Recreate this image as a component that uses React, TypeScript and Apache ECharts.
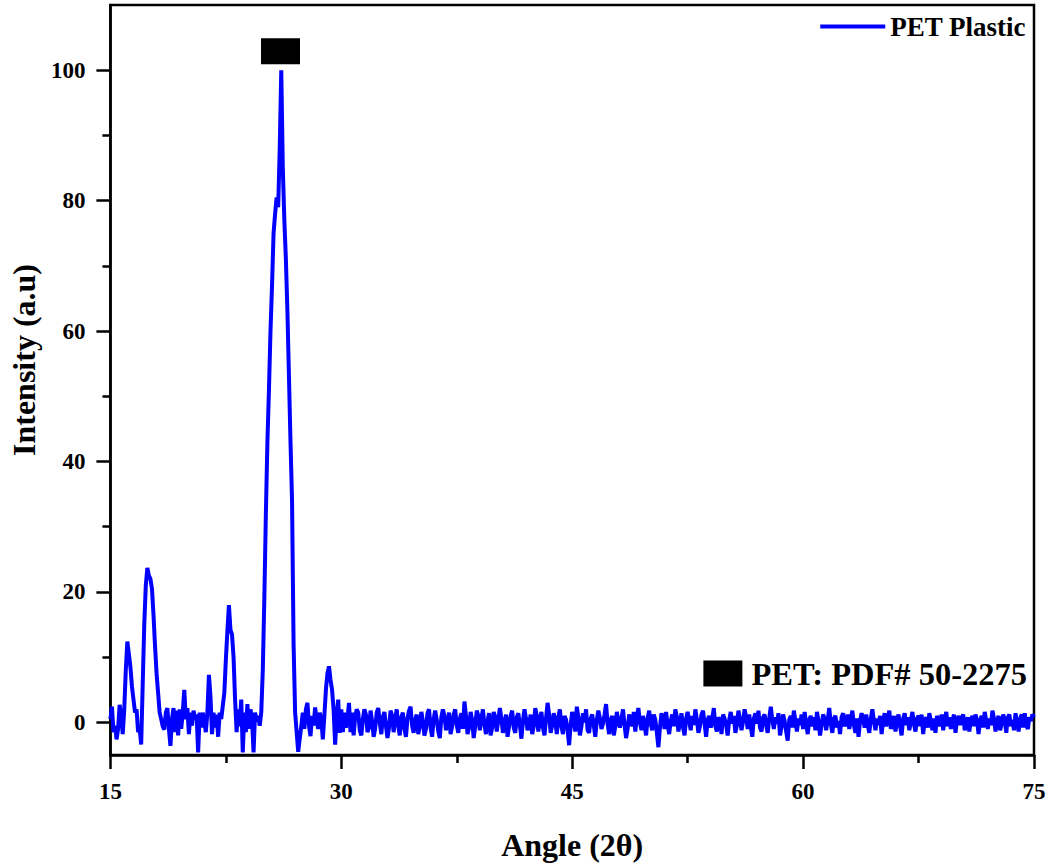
import React, { useEffect, useRef } from "react";
import * as echarts from "echarts";

// 2θ sampling: segment A 15.0–31.0, segment B 31.1–75.0, both step 0.1
const segAStart = 15.0;
const segBStart = 31.1;
const angleStep = 0.1;
const segA = [
  0.5, 2.4, -1.5, -0.5, -2.6, -1.0, 2.7, 1.0, -1.8, 2.0,
  8.0, 12.4, 10.5, 8.5, 5.5, 3.5, 1.5, 2.0, -1.5, -1.0,
  -3.4, 6.0, 15.0, 21.0, 23.7, 22.5, 22.0, 20.5, 16.5, 11.7,
  7.5, 4.5, 1.5, 0.5, -0.6, -1.1, 1.5, 2.2, -1.0, -3.6,
  0.5, 2.2, -1.5, 1.8, -2.0, 2.0, -1.0, 1.5, 5.0, 0.5,
  2.2, -1.8, 1.5, -0.5, 1.8, 0.5, 1.2, -4.6, 1.5, -0.8,
  1.5, 0.2, -1.5, 1.5, 7.3, 4.0, -1.8, 1.5, -0.8, 1.2,
  -2.2, 1.5, 0.5, 2.5, 4.5, 9.6, 14.0, 18.0, 14.2, 13.5,
  10.0, 3.5, -1.5, 2.0, -0.6, 3.5, -4.6, 1.5, -1.5, 2.8,
  -1.0, 2.0, 0.5, -4.6, 1.5, 0.2, 1.0, -0.5, 1.5, 8.0,
  19.0, 32.0, 43.0, 51.0, 60.0, 67.0, 75.0, 78.0, 80.5, 79.0,
  88.0, 100.0, 85.0, 77.0, 71.0, 63.0, 53.0, 43.0, 34.0, 12.0,
  1.5, -1.5, -4.5, -2.5, -0.6, 1.5, -1.0, 2.0, 3.0, -0.5,
  -2.1, 1.0, -0.5, 2.3, 0.5, -1.0, 1.5, 0.5, -2.6, 1.0,
  5.0, 7.5, 8.6, 6.5, 5.0, 2.0, -3.4, 1.0, 3.5, -1.6,
  2.0, -1.5, 1.5, -0.8, 0.5, 3.0, -1.5, 1.5, -2.0, 0.8,
  2.0,
];
const segB = [
  1.5, -1.2, -2.0, 0.5, 2.0, 1.2, -1.5, -0.8, 1.8, 0.2,
  -2.2, -1.0, 1.5, 2.2, 0.0, -1.8, 0.8, 1.6, -0.5, -2.4,
  -0.8, 1.8, 1.0, -1.5, 0.5, 2.0, -0.5, -2.0, 0.8, 1.5,
  -1.0, -2.2, 0.6, 1.8, 2.4, -0.5, -1.6, 0.4, 1.2, -1.8,
  -0.6, 1.6, 0.2, -2.0, -1.0, 1.4, 2.0, -0.8, -2.2, 0.5,
  1.8, 0.4, -1.4, -2.4, 0.8, 2.0, 1.0, -1.2, 0.0, 1.5,
  -1.8, -0.6, 1.2, 2.0, -0.4, -1.6, 0.6, 1.4, -1.0, 3.2,
  1.0, -1.8, -0.8, 1.6, 0.4, -2.4, -0.6, 1.8, 1.0, -1.2,
  0.6, 2.0, -0.4, -1.8, 0.2, 1.4, -2.0, -0.8, 1.6, 0.8,
  -1.4, 0.4, 2.2, 0.6, -1.6, -0.2, 1.2, -2.2, -0.6, 1.0,
  1.8, -0.8, -1.6, 0.8, 1.4, -0.4, -2.5, 0.2, 2.0, 0.6,
  -1.2, -0.2, 1.2, -1.8, -0.6, 2.2, 1.0, -1.4, 0.4, 1.6,
  -0.8, -2.0, 0.6, 3.0, 1.2, -1.6, -0.4, 1.4, 0.2, -1.8,
  0.8, 2.0, -0.6, -1.8, 1.0, 0.4, -1.2, -3.5, -0.4, 1.6,
  0.2, -1.4, 2.4, 0.8, -2.0, -0.6, 1.4, 0.0, 2.0, -1.2,
  -1.6, 0.6, 1.2, -0.4, -2.2, 0.4, 1.8, 0.6, -1.0, -0.2,
  1.2, 2.8, -0.2, -1.8, 0.4, 1.0, -2.0, -0.6, 1.6, 0.2,
  -0.8, 0.6, 2.0, -0.4, -2.4, -1.0, 1.2, 0.4, -0.6, 1.6,
  -1.4, 0.8, 2.2, 0.0, -1.2, 1.0, -0.4, -2.0, 0.6, 1.8,
  -0.2, -1.2, 1.2, 0.4, -1.6, -3.8, -0.8, 1.4, 0.6, -1.0,
  1.6, -0.4, -1.8, 0.2, 1.2, -0.6, 2.0, 0.8, -1.4, 0.0,
  1.4, -0.8, -2.0, 0.6, 1.6, 0.2, -1.2, 1.0, -0.4, 2.0,
  0.4, -1.6, -0.6, 1.2, 1.8, -0.2, -2.2, 0.4, 1.0, -0.8,
  0.6, 2.2, -0.6, -1.4, 0.8, 0.2, -1.8, 1.2, 0.6, -0.4,
  -2.0, 0.4, 1.6, -0.2, 1.0, -1.6, -0.4, 1.8, 0.4, -1.2,
  0.2, 2.0, 0.8, -1.0, 1.2, -0.6, -2.2, 0.6, 1.4, -0.2,
  1.8, -0.8, -1.4, 0.8, 1.2, -0.4, -1.6, 0.6, 2.4, 0.4,
  -1.0, 0.8, -0.2, 1.4, -2.0, -0.6, 1.2, 0.2, -1.4, -2.8,
  0.4, 1.0, -0.8, 1.8, 0.2, -1.4, 0.6, -0.4, 1.2, -1.0,
  1.6, -0.2, -1.8, 0.4, 1.0, -0.6, 0.8, -1.2, 1.6, 0.2,
  -2.0, -0.4, 1.2, 0.6, -1.2, 0.4, 2.2, -0.2, -1.6, 0.6,
  1.0, -0.8, 0.2, -1.8, 0.8, 1.4, -0.6, 0.0, 1.2, -1.0,
  0.4, 1.8, -0.4, -1.6, 0.6, -2.2, 0.2, 1.4, 0.4, -0.8,
  1.2, -0.4, -1.6, 0.6, 2.0, 0.2, -1.2, 0.6, -0.4, 1.0,
  -1.8, 0.2, 1.4, -0.6, 0.4, 1.8, -1.0, -0.2, 1.0, -1.4,
  0.4, 1.2, -0.6, -2.0, 0.6, 1.4, -0.4, 0.8, -1.2, 0.2,
  1.6, -0.2, -1.4, 0.6, 1.0, -0.6, 1.2, -1.8, 0.2, 0.8,
  -0.8, 1.4, 0.2, -1.2, 0.6, -1.6, 1.0, 0.2, -0.6, 1.2,
  -1.2, 0.4, 1.6, -0.6, 0.8, -1.0, 0.2, 1.2, -1.6, 0.4,
  1.0, -0.4, 0.6, 1.2, -1.2, -0.2, 0.8, -1.4, 0.4, 1.0,
  -0.6, 1.2, 0.2, -1.8, 0.4, 1.0, -0.8, 1.6, 0.2, -1.0,
  0.6, -0.4, 1.8, 0.6, -1.4, 0.2, 1.0, -1.2, -0.2, 1.2,
  0.4, -1.6, 0.8, 1.2, -0.6, 0.4, -1.2, 1.4, 0.0, -1.4,
  0.6, 1.2, -0.8, 1.4, -0.4, -1.0, 0.8, 0.2, 1.2, 0.8,
];

// reference phase marker (PET: PDF# 50-2275)
const refPeaks = [[26.05, 102.9]];

const xTicks = [15, 30, 45, 60, 75];
const yLabels = [0, 20, 40, 60, 80, 100];
const yMinor = [10, 30, 50, 70, 90];

const seriesName = "PET Plastic";
const refName = "PET: PDF# 50-2275";

function buildData(): number[][] {
  const out: number[][] = [];
  segA.forEach((v, i) => out.push([+(segAStart + i * angleStep).toFixed(2), v]));
  segB.forEach((v, i) => out.push([+(segBStart + i * angleStep).toFixed(2), v]));
  return out;
}

const FONT = "'Liberation Serif', 'Times New Roman', serif";

export default function App() {
  const ref = useRef<HTMLDivElement>(null);
  useEffect(() => {
    if (!ref.current) return;
    const chart = echarts.init(ref.current, undefined, { renderer: "svg" });
    const axisLineStyle = { color: "#000", width: 2.5 };
    chart.setOption({
      animation: false,
      backgroundColor: "#fff",
      grid: {
        left: 108,
        right: 20,
        top: 5,
        bottom: 112,
        show: true,
        borderColor: "#000",
        borderWidth: 2.5,
        backgroundColor: "transparent",
      },
      legend: [
        {
          data: [{ name: seriesName, icon: "rect" }],
          right: 28,
          top: 13,
          padding: 0,
          itemWidth: 65,
          itemHeight: 4,
          textStyle: { fontFamily: FONT, fontWeight: "bold", fontSize: 27, color: "#000" },
        },
        {
          data: [{ name: refName, icon: "rect" }],
          right: 27,
          top: 657,
          padding: 0,
          itemWidth: 39,
          itemHeight: 26,
          textStyle: { fontFamily: FONT, fontWeight: "bold", fontSize: 32.5, color: "#000", padding: [0, 0, 0, 4] },
        },
      ],
      xAxis: {
        type: "value",
        min: 15,
        max: 75,
        interval: 15,
        name: "Angle (2θ)",
        nameLocation: "middle",
        nameGap: 74,
        nameTextStyle: { fontFamily: FONT, fontWeight: "bold", fontSize: 32, color: "#000" },
        axisLine: { show: true, onZero: false, lineStyle: axisLineStyle },
        axisTick: { show: true, length: 14, inside: false, lineStyle: axisLineStyle },
        minorTick: { show: true, splitNumber: 2, length: 8, lineStyle: axisLineStyle },
        splitLine: { show: false },
        axisLabel: {
          margin: 25,
          fontFamily: FONT,
          fontWeight: "bold",
          fontSize: 23,
          color: "#000",
          customValues: xTicks,
        },
      },
      yAxis: [
        {
          type: "value",
          min: -5,
          max: 110,
          name: "Intensity (a.u)",
          nameLocation: "middle",
          nameGap: 64,
          nameTextStyle: {
            fontFamily: FONT,
            fontWeight: "bold",
            fontSize: 32,
            color: "#000",
            padding: [0, 0, 0, 40],
          },
          axisLine: { show: true, onZero: false, lineStyle: axisLineStyle },
          axisTick: { show: true, length: 14, inside: false, lineStyle: axisLineStyle, customValues: yLabels },
          splitLine: { show: false },
          axisLabel: {
            margin: 25,
            fontFamily: FONT,
            fontWeight: "bold",
            fontSize: 23,
            color: "#000",
            customValues: yLabels,
          },
        },
        {
          type: "value",
          min: -5,
          max: 110,
          position: "left",
          axisLine: { show: false, onZero: false },
          axisTick: { show: true, length: 8, inside: false, lineStyle: axisLineStyle, customValues: yMinor },
          splitLine: { show: false },
          axisLabel: { show: false, customValues: yMinor },
        },
      ],
      series: [
        {
          name: seriesName,
          type: "line",
          data: buildData(),
          symbol: "none",
          showSymbol: false,
          color: "#0000ff",
          itemStyle: { color: "#0000ff" },
          lineStyle: { color: "#0000ff", width: 4 },
          z: 3,
        },
        {
          name: refName,
          type: "scatter",
          data: refPeaks,
          symbol: "rect",
          symbolSize: [39, 26],
          itemStyle: { color: "#000", opacity: 1 },
          z: 4,
        },
      ],
    });
    return () => chart.dispose();
  }, []);
  return (
    <div
      ref={ref}
      style={{ position: "fixed", left: 0, top: 0, width: 1054, height: 867, background: "#fff" }}
    />
  );
}
